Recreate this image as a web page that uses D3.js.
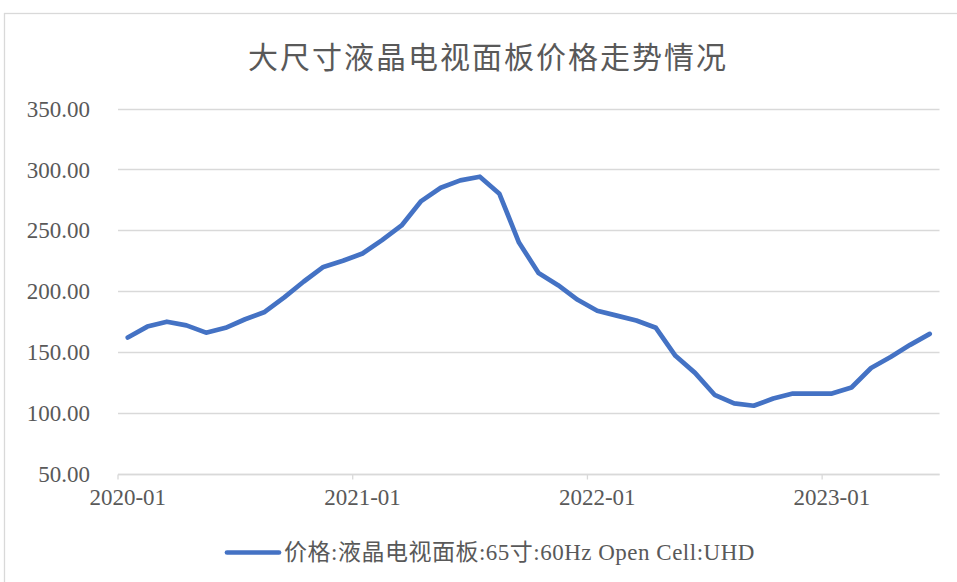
<!DOCTYPE html>
<html><head><meta charset="utf-8">
<script src="https://cdn.jsdelivr.net/npm/d3@7/dist/d3.min.js"></script>
<style>
body{margin:0;background:#fff;}
svg{display:block;}
</style></head>
<body>
<svg id="chart" width="957" height="582"></svg>
<script>
const title = "大尺寸液晶电视面板价格走势情况";
const seriesName = "价格:液晶电视面板:65寸:60Hz Open Cell:UHD";
const months = [
 "2020-01","2020-02","2020-03","2020-04","2020-05","2020-06","2020-07","2020-08","2020-09","2020-10","2020-11","2020-12",
 "2021-01","2021-02","2021-03","2021-04","2021-05","2021-06","2021-07","2021-08","2021-09","2021-10","2021-11","2021-12",
 "2022-01","2022-02","2022-03","2022-04","2022-05","2022-06","2022-07","2022-08","2022-09","2022-10","2022-11","2022-12",
 "2023-01","2023-02","2023-03","2023-04","2023-05","2023-06"];
const prices = [
 162,171,175,172,166,170,177,183,195,208,220,225,
 231,242,254,274,285,291,294,280,240,215,205,193,
 184,180,176,170,147,133,115,108,106,112,116,116,
 116,121,137,146,156,165];
const yTicks = [50,100,150,200,250,300,350];
const xTickLabels = ["2020-01","2021-01","2022-01","2023-01"];

const svg = d3.select("#chart");
const grey = "#595959";
const font = "'Liberation Serif','Noto Sans CJK SC',serif";

// outer chart border
svg.append("rect").attr("x",4.5).attr("y",13.5).attr("width",1000).attr("height",600)
  .attr("fill","none").attr("stroke","#d9d9d9").attr("stroke-width",1.3);

const x = d3.scaleBand().domain(months).range([118,939.5]).paddingInner(0).paddingOuter(0);
const y = d3.scaleLinear().domain([50,350]).range([474,108.5]);

// gridlines
svg.append("g").selectAll("line").data(yTicks).join("line")
  .attr("x1",118).attr("x2",939.5)
  .attr("y1",d=>Math.round(y(d))+0.5).attr("y2",d=>Math.round(y(d))+0.5)
  .attr("stroke","#d9d9d9").attr("stroke-width",1.3);

// y axis labels
const yAxis = d3.axisLeft(y).tickValues(yTicks).tickFormat(d3.format(".2f")).tickSize(0).tickPadding(28);
const gy = svg.append("g").attr("transform","translate(118,0)").call(yAxis);
gy.select(".domain").remove();
gy.selectAll("text").attr("fill",grey).attr("font-size",23).attr("font-family",font).attr("dy","0.33em");

// x axis
const xAxis = d3.axisBottom(x).tickValues(xTickLabels).tickSize(5).tickPadding(9);
const gx = svg.append("g").attr("transform",`translate(0,${Math.round(y(50))+0.5})`).call(xAxis);
gx.select(".domain").attr("stroke","#d9d9d9").attr("stroke-width",1.3).attr("d","M118,0H939.5");
gx.selectAll(".tick line").attr("stroke","#d9d9d9").attr("stroke-width",1.3)
  .attr("x1",-x.bandwidth()/2).attr("x2",-x.bandwidth()/2);
gx.selectAll("text").attr("fill",grey).attr("font-size",23).attr("font-family",font);

// line
const line = d3.line().x((d,i)=>x(months[i])+x.bandwidth()/2).y(d=>y(d));
svg.append("path").datum(prices).attr("d",line)
  .attr("fill","none").attr("stroke","#4472C4").attr("stroke-width",4.7)
  .attr("stroke-linejoin","round").attr("stroke-linecap","round");

// title
svg.append("text").attr("x",488).attr("y",68).attr("text-anchor","middle")
  .attr("font-family","'Noto Sans CJK SC',sans-serif").attr("font-size",30)
  .attr("letter-spacing",2).attr("fill",grey).text(title);

// legend
svg.append("line").attr("x1",227).attr("x2",279).attr("y1",552.5).attr("y2",552.5)
  .attr("stroke","#4472C4").attr("stroke-width",4.7).attr("stroke-linecap","round");
svg.append("text").attr("x",284).attr("y",560).attr("font-family",font).attr("font-size",23)
  .attr("letter-spacing",0.5).attr("fill",grey).text(seriesName);
</script>
</body></html>
